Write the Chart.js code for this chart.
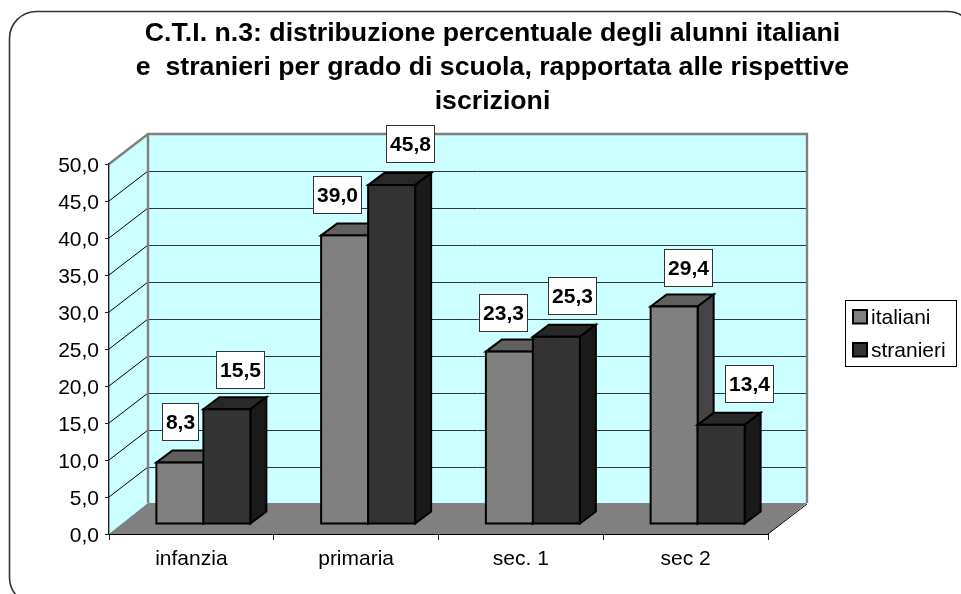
<!DOCTYPE html>
<html><head><meta charset="utf-8">
<style>html,body{margin:0;padding:0;background:#fff}canvas{display:block}</style>
<script src="https://cdn.jsdelivr.net/npm/chart.js@4"></script>
</head><body><canvas id="c" width="961" height="594"></canvas>
<script>
const titleLines = ["C.T.I. n.3: distribuzione percentuale degli alunni italiani","e  stranieri per grado di scuola, rapportata alle rispettive","iscrizioni"];
const categories = ["infanzia","primaria","sec. 1","sec 2"];
const italiani = [8.3,39.0,23.3,29.4];
const stranieri = [15.5,45.8,25.3,13.4];
const yMax = 50, yStep = 5;

// label box nudges relative to the top centre of each drawn bar
const italianiNudge = [[0,-41],[-8,-41],[-6.4,-39],[13.9,-39]];
const stranieriNudge = [[13.6,-39.5],[18.4,-41.5],[15.6,-41],[27.4,-41]];

const FONT = '"Liberation Sans", Arial, sans-serif';
const fmt = v => v.toFixed(1).replace('.',',');
const WALL = {dx:39, dy:-30}, BAR = {x:12, y:-10, dx:16, dy:-12};
const faces = [
  {front:'#808080', top:'#606060', side:'#444444'},
  {front:'#333333', top:'#282828', side:'#1a1a1a'}
];
function poly(ctx, pts, fill, stroke, lw){
  ctx.beginPath(); pts.forEach((p,i)=> i?ctx.lineTo(p[0],p[1]):ctx.moveTo(p[0],p[1])); ctx.closePath();
  if(fill){ctx.fillStyle=fill;ctx.fill();}
  if(stroke){ctx.strokeStyle=stroke;ctx.lineWidth=lw||1;ctx.lineJoin='miter';ctx.stroke();}
}
function seg(ctx,x1,y1,x2,y2,c,lw){ctx.beginPath();ctx.moveTo(x1,y1);ctx.lineTo(x2,y2);ctx.strokeStyle=c;ctx.lineWidth=lw;ctx.stroke();}

function drawSeries(chart,k){
  const {ctx}=chart, meta=chart.getDatasetMeta(k), col=faces[k];
  ctx.save();
  ctx.translate(BAR.x,BAR.y);
  meta.data.forEach(el=>{
    const l=el.x-el.width/2, r=el.x+el.width/2, t=el.y, b=el.base;
    poly(ctx,[[l,t],[l+BAR.dx,t+BAR.dy],[r+BAR.dx,t+BAR.dy],[r,t]],col.top,'#000',2);
    poly(ctx,[[r,t],[r+BAR.dx,t+BAR.dy],[r+BAR.dx,b+BAR.dy],[r,b]],col.side,'#000',2);
  });
  meta.controller.draw();
  meta.data.forEach(el=>{
    ctx.strokeStyle='#000'; ctx.lineWidth=2; ctx.lineJoin='miter';
    ctx.strokeRect(el.x-el.width/2,el.y,el.width,el.base-el.y);
  });
  ctx.restore();
}

const plugin3d = {
  id:'plugin3d',
  afterLayout(chart){
    const t = chart.titleBlock; t.left = 25; t.right = 960;
  },
  beforeDraw(chart){
    const {ctx, chartArea:a, scales:{x,y}} = chart;
    const d = WALL;
    ctx.save();
    // frame
    ctx.beginPath(); ctx.roundRect(9.5,11.5,965,593,27); ctx.strokeStyle='#333'; ctx.lineWidth=1.6; ctx.stroke();
    const y0=y.getPixelForValue(0), yT=y.getPixelForValue(yMax);
    // walls
    poly(ctx,[[a.left,y0],[a.left,yT],[a.left+d.dx,yT+d.dy],[a.left+d.dx,y0+d.dy]],'#CCFFFF');
    ctx.fillStyle='#CCFFFF';
    ctx.fillRect(a.left+d.dx,yT+d.dy,a.right-a.left,y0-yT);
    // gridlines
    for(const tk of y.ticks){
      const p=y.getPixelForValue(tk.value);
      if(tk.value>0 && tk.value<yMax){
        seg(ctx,a.left,p,a.left+d.dx,p+d.dy,'#000',1);
        seg(ctx,a.left+d.dx,Math.round(p+d.dy)+.5,a.right+d.dx,Math.round(p+d.dy)+.5,'#333',1);
      }
    }
    // floor
    poly(ctx,[[a.left,y0],[a.left+d.dx,y0+d.dy-1],[a.right+d.dx,y0+d.dy-1],[a.right,y0]],'#808080');
    // wall borders
    ctx.strokeStyle='#808080'; ctx.lineWidth=2.4;
    ctx.beginPath();
    ctx.moveTo(a.left,yT); ctx.lineTo(a.left+d.dx,yT+d.dy); ctx.lineTo(a.right+d.dx,yT+d.dy); ctx.lineTo(a.right+d.dx,y0+d.dy-1);
    ctx.moveTo(a.left+d.dx,yT+d.dy); ctx.lineTo(a.left+d.dx,y0+d.dy-1);
    ctx.stroke();
    seg(ctx,a.right,y0,a.right+d.dx,y0+d.dy,'#000',1);
    ctx.restore();
  },
  // Chart.js paints dataset 0 last; the 3D overlap needs italiani underneath stranieri
  beforeDatasetDraw(chart,args){
    if(args.index===1){ drawSeries(chart,0); drawSeries(chart,1); }
    return false;
  },
  afterDatasetsDraw(chart){
    const {ctx}=chart;
    ctx.save();
    const nudges=[italianiNudge,stranieriNudge];
    ctx.font='bold 21px '+FONT; ctx.textAlign='center'; ctx.textBaseline='middle';
    chart.data.datasets.forEach((ds,k)=>{
      chart.getDatasetMeta(k).data.forEach((el,i)=>{
        const s=fmt(ds.data[i]), w=Math.round(ctx.measureText(s).width)+7, h=37;
        const cx=el.x+BAR.x+nudges[k][i][0], cy=el.y+BAR.y+nudges[k][i][1];
        const bx=Math.round(cx-w/2)+.5, by=Math.round(cy-h/2)+.5;
        ctx.fillStyle='#fff'; ctx.fillRect(bx,by,w,h);
        ctx.strokeStyle='#333'; ctx.lineWidth=1; ctx.strokeRect(bx,by,w,h);
        ctx.fillStyle='#000'; ctx.fillText(s,bx+w/2,by+h/2+1);
      });
    });
    // legend
    ctx.fillStyle='#fff'; ctx.fillRect(845.5,300.5,111,66);
    ctx.strokeStyle='#000'; ctx.lineWidth=1; ctx.strokeRect(845.5,300.5,111,66);
    ctx.font='21px '+FONT; ctx.textAlign='left';
    chart.data.datasets.forEach((ds,k)=>{
      const yy=[310,343][k];
      ctx.fillStyle=ds.backgroundColor; ctx.fillRect(853,yy,14,13.5);
      ctx.strokeStyle='#000'; ctx.lineWidth=2; ctx.strokeRect(853,yy,14,13.5);
      ctx.fillStyle='#000'; ctx.fillText(ds.label,871,yy+8.5);
    });
    ctx.restore();
  }
};

new Chart(document.getElementById('c'),{
  type:'bar',
  data:{labels:categories,datasets:[
    {label:'italiani',data:italiani,backgroundColor:faces[0].front,borderWidth:0},
    {label:'stranieri',data:stranieri,backgroundColor:faces[1].front,borderWidth:0}
  ]},
  plugins:[plugin3d],
  options:{
    responsive:false,animation:false,
    layout:{padding:{left:0,right:193,top:0,bottom:0}},
    datasets:{bar:{categoryPercentage:94/164.75,barPercentage:1}},
    plugins:{
      legend:{display:false},
      tooltip:{enabled:false},
      title:{display:true,text:titleLines,color:'#000',
        font:{family:FONT,size:26.7,weight:'bold',lineHeight:'34px'},
        padding:{top:17,bottom:45}}
    },
    scales:{
      x:{
        grid:{drawOnChartArea:false,drawTicks:true,tickLength:6,color:'#222'},
        border:{color:'#000',width:1},
        ticks:{color:'#000',font:{family:FONT,size:21},padding:7,maxRotation:0},
        afterFit(s){s.height=60;}
      },
      y:{
        min:0,max:yMax,
        grid:{drawOnChartArea:false,drawTicks:true,tickLength:4,color:'#222'},
        border:{color:'#222',width:1.4},
        ticks:{stepSize:yStep,color:'#000',font:{family:FONT,size:21},padding:6,labelOffset:2,callback:v=>fmt(v)},
        afterFit(s){s.width=109;}
      }
    }
  }
});
</script></body></html>
